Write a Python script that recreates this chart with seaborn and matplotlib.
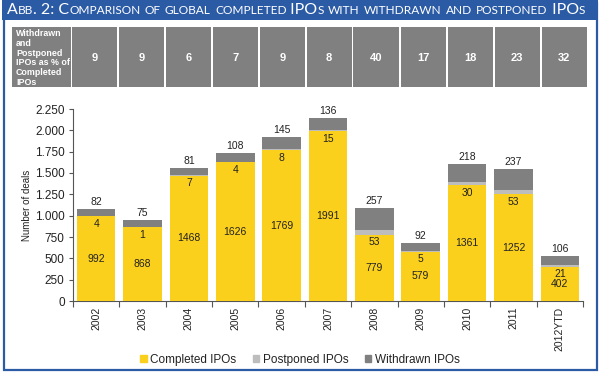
import numpy as np
import pandas as pd
import matplotlib
matplotlib.use("Agg")
import matplotlib.pyplot as plt
import seaborn as sns
from matplotlib.patches import Rectangle, Patch
from matplotlib.offsetbox import TextArea, HPacker, AnchoredOffsetbox
from matplotlib.ticker import FuncFormatter, FixedLocator

# ---------------- data ----------------
years = ["2002", "2003", "2004", "2005", "2006", "2007", "2008", "2009", "2010", "2011", "2012YTD"]
completed = [992, 868, 1468, 1626, 1769, 1991, 779, 579, 1361, 1252, 402]
postponed = [4, 1, 7, 4, 8, 15, 53, 5, 30, 53, 21]
withdrawn = [82, 75, 81, 108, 145, 136, 257, 92, 218, 237, 106]
pct_withdrawn_postponed = [9, 9, 6, 7, 9, 8, 40, 17, 18, 23, 32]
y_ticks = [0, 250, 500, 750, 1000, 1250, 1500, 1750, 2000, 2250]
series_names = ["Completed IPOs", "Postponed IPOs", "Withdrawn IPOs"]
table_header = "Withdrawn\nand\nPostponed\nIPOs as % of\nCompleted\nIPOs"
title_text = "Abb. 2: Comparison of global completed IPOs with withdrawn and postponed IPOs"

df = pd.DataFrame({"year": years, "completed": completed,
                   "postponed": postponed, "withdrawn": withdrawn})
df["cp"] = df["completed"] + df["postponed"]
df["total"] = df["cp"] + df["withdrawn"]

# ---------------- style ----------------
sns.set_style("ticks")
plt.rcParams["font.family"] = ["Liberation Sans", "DejaVu Sans"]

YELLOW = "#FBD01C"
LGREY = "#BDBDBD"
DGREY = "#808080"
BLUE = "#2C5BA5"

W, H = 600, 374
fig = plt.figure(figsize=(6.0, 3.74), dpi=100)

def fx(x):
    return x / W

def fy(y):
    return 1 - y / H

# axes for bars
ax = fig.add_axes([fx(73), fy(301), fx(583) - fx(73), fy(109) - fy(301)])

bw = 0.83
sns.barplot(data=df, x="year", y="total", color=DGREY, width=bw, ax=ax,
            saturation=1, zorder=2)
sns.barplot(data=df, x="year", y="cp", color=LGREY, width=bw, ax=ax,
            saturation=1, zorder=3)
sns.barplot(data=df, x="year", y="completed", color=YELLOW, width=bw, ax=ax,
            saturation=1, zorder=4)
for p in ax.patches:
    p.set_linewidth(0)
if ax.get_legend() is not None:
    ax.get_legend().remove()

ax.set_ylim(0, 2250)
ax.set_xlim(-0.5, len(years) - 0.5)
ax.set_yticks(y_ticks)
ax.yaxis.set_major_formatter(FuncFormatter(lambda v, _: f"{int(v):,}".replace(",", ".")))
ax.tick_params(axis="y", labelsize=8.5, length=3, width=0.8, color="#555555", pad=3, labelcolor="#222222")
ax.set_ylabel("Number of deals", fontsize=7, color="#222222", labelpad=2)
ax.set_xlabel("")
ax.tick_params(axis="x", which="major", length=0, labelsize=7.5, labelrotation=90, pad=4, labelcolor="#222222")
ax.xaxis.set_minor_locator(FixedLocator(np.arange(-0.5, len(years), 1.0)))
ax.tick_params(axis="x", which="minor", length=4, width=0.8, color="#555555")
for s in ["top", "right"]:
    ax.spines[s].set_visible(False)
for s in ["left", "bottom"]:
    ax.spines[s].set_color("#555555")
    ax.spines[s].set_linewidth(0.8)
ax.set_facecolor("white")

# value labels
for i in range(len(years)):
    ax.text(i, completed[i] / 2, str(completed[i]), ha="center", va="center",
            fontsize=7.5, color="#222222", zorder=6)
    ax.text(i, completed[i] - 90, str(postponed[i]), ha="center", va="center",
            fontsize=7.5, color="#222222", zorder=6)
    ax.text(i, df["total"][i] + 25, str(withdrawn[i]), ha="center", va="bottom",
            fontsize=7.5, color="#222222", zorder=6)

# legend
handles = [Patch(color=YELLOW), Patch(color=LGREY), Patch(color=DGREY)]
fig.legend(handles, series_names, loc="center", bbox_to_anchor=(fx(300), fy(360)),
           ncol=3, frameon=False, fontsize=8.5, handlelength=0.55, handleheight=0.55,
           handletextpad=0.3, columnspacing=1.4, labelcolor="#222222")

# ---------------- table ----------------
fig.add_artist(Rectangle((fx(12), fy(87)), fx(70.5) - fx(12), fy(27) - fy(87),
                         transform=fig.transFigure, facecolor=DGREY, edgecolor="none"))
fig.text(fx(16), fy(58), table_header, fontsize=6.4, fontweight="bold", color="white",
         ha="left", va="center", linespacing=1.1)
x0, cw = 71.5, 47.0
for i, v in enumerate(pct_withdrawn_postponed):
    left = x0 + i * cw
    fig.add_artist(Rectangle((fx(left), fy(87)), fx(cw - 1.5), fy(27) - fy(87),
                             transform=fig.transFigure, facecolor=DGREY, edgecolor="none"))
    fig.text(fx(left + (cw - 1.5) / 2), fy(58), str(v), fontsize=8, fontweight="bold",
             color="white", ha="center", va="center")

# ---------------- frame and title bar ----------------
fig.add_artist(Rectangle((fx(3.5), fy(369.5)), fx(593.5), fy(3) - fy(369.5),
                         transform=fig.transFigure, facecolor="none", edgecolor=BLUE, linewidth=1.6))
fig.add_artist(Rectangle((fx(1.5), fy(20)), fx(596.5), fy(0) - fy(20),
                         transform=fig.transFigure, facecolor=BLUE, edgecolor="none"))

# small caps title
big, small = 11.5, 8.55
runs = []
cur, cur_up = "", None
for ch in title_text:
    up = not ch.islower()
    if cur_up is None or up == cur_up:
        cur += ch
    else:
        runs.append((cur, cur_up))
        cur = ch
    cur_up = up
runs.append((cur, cur_up))
areas = []
for txt, up in runs:
    areas.append(TextArea(txt.upper(), textprops=dict(fontsize=big if up else small,
                                                      color="white", family="Lato")))
hp = HPacker(children=areas, align="baseline", pad=0, sep=0)
ab = AnchoredOffsetbox(loc="center left", child=hp, pad=0, frameon=False,
                       bbox_to_anchor=(fx(7), fy(10.5)), bbox_transform=fig.transFigure,
                       borderpad=0)
fig.add_artist(ab)

fig.savefig("out.png", dpi=100)
